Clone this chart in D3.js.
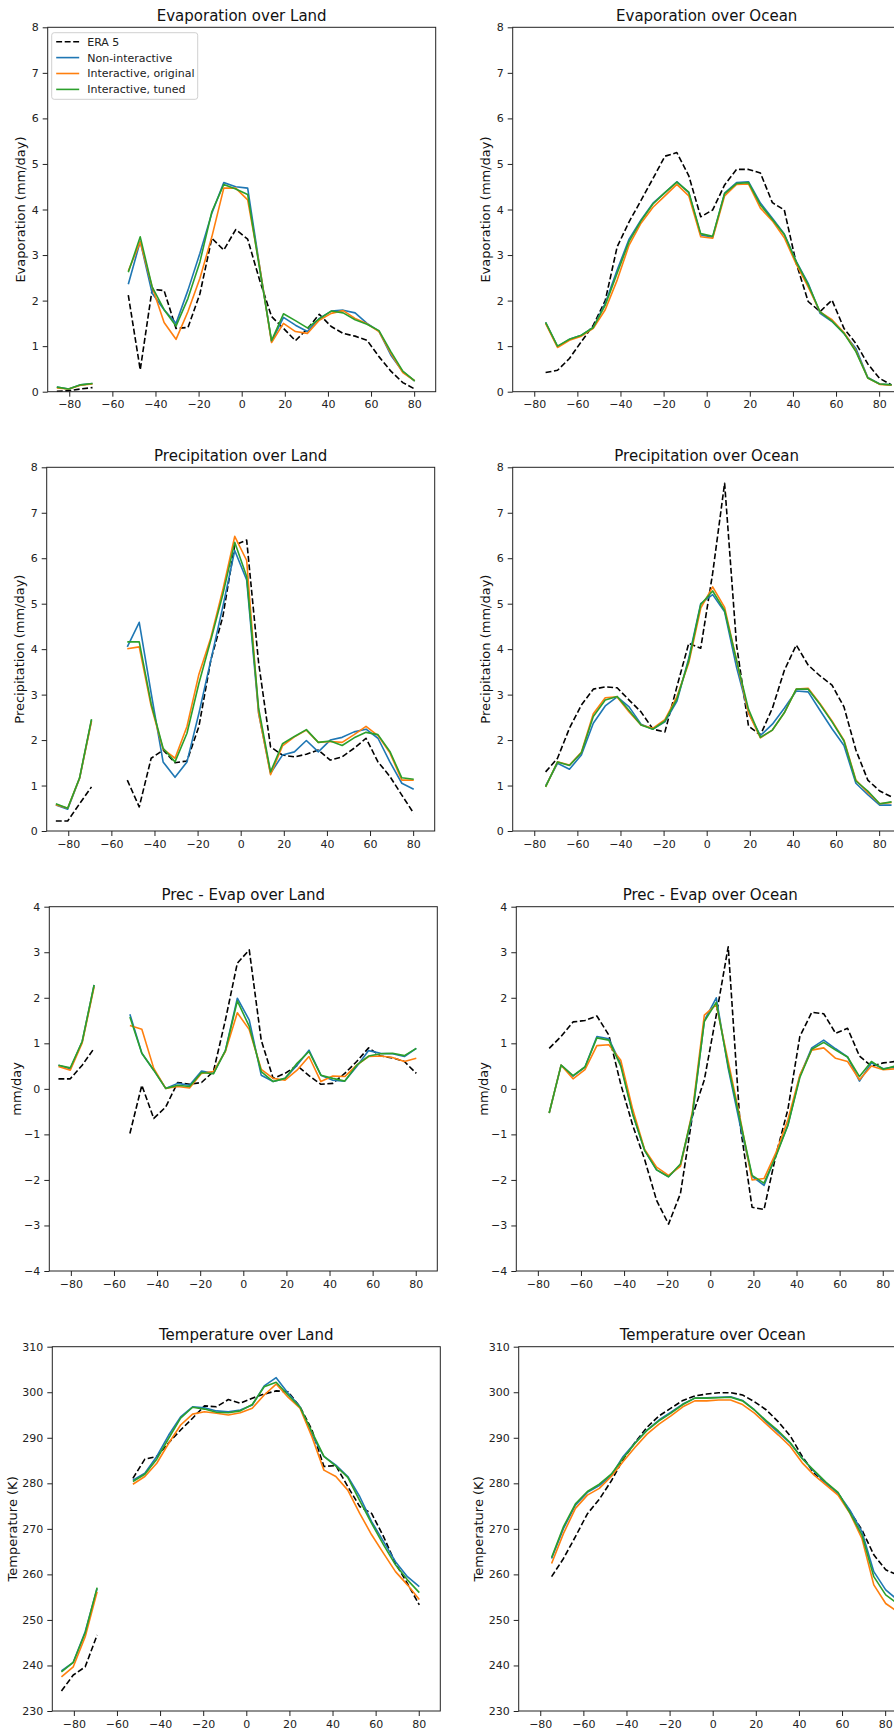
<!DOCTYPE html>
<html lang="en">
<head>
  <meta charset="UTF-8">
  <title>Zonal means</title>
  <script src="https://d3js.org/d3.v7.min.js"></script>
  <style>
    body { margin: 0; background: white; overflow: hidden; }
    svg { display: block; font-family: "DejaVu Sans", sans-serif; }
    .spine { fill: none; stroke: #222; stroke-width: 1; }
    .tick line { stroke: #222; }
    .tick text { fill: #222; font-size: 11px; }
    .title { font-size: 15px; fill: #111; text-anchor: middle; }
    .ylab { font-size: 13px; fill: #111; text-anchor: middle; }
    .series { fill: none; stroke-width: 1.6; stroke-linejoin: round; }
    .legend text { font-size: 11px; fill: #222; }
  </style>
</head>
<body>
<svg id="fig" width="894" height="1730"></svg>
<script>
// T21 gaussian latitudes, south to north
const lat = [-85.76, -80.27, -74.74, -69.21, -63.68, -58.14, -52.61, -47.07, -41.54, -36.00,
  -30.47, -24.92, -19.38, -13.85, -8.31, -2.77, 2.77, 8.31, 13.85, 19.38, 24.92, 30.47,
  36.00, 41.54, 47.07, 52.61, 58.14, 63.68, 69.21, 74.74, 80.26, 85.76];

const seriesNames = ["ERA 5", "Non-interactive", "Interactive, original", "Interactive, tuned"];
const seriesColors = ["#000000", "#1f77b4", "#ff7f0e", "#2ca02c"];

// Evaporation over land (mm/day)
const evapLandEra = [0.01, 0.02, 0.06, 0.09, null, null, 2.12, 0.48, 2.25, 2.22, 1.39, 1.41, 2.15, 3.37, 3.11, 3.56, 3.35, 2.45, 1.65, 1.39, 1.12, 1.38, 1.70, 1.43, 1.28, 1.22, 1.13, 0.77, 0.45, 0.2, 0.06, null];
const evapLandNon = [0.1, 0.06, 0.15, 0.18, null, null, 2.36, 3.3, 2.16, 1.8, 1.5, 2.23, 3.04, 3.92, 4.59, 4.5, 4.47, 2.75, 1.1, 1.63, 1.46, 1.32, 1.61, 1.77, 1.79, 1.73, 1.5, 1.33, 0.8, 0.44, 0.23, null];
const evapLandOrig = [0.08, 0.06, 0.14, 0.17, null, null, 2.65, 3.29, 2.3, 1.52, 1.15, 1.76, 2.49, 3.4, 4.47, 4.47, 4.21, 2.75, 1.08, 1.5, 1.32, 1.28, 1.57, 1.72, 1.78, 1.61, 1.49, 1.32, 0.84, 0.42, 0.24, null];
const evapLandTuned = [0.1, 0.06, 0.15, 0.18, null, null, 2.62, 3.4, 2.3, 1.8, 1.44, 2.05, 2.85, 3.95, 4.55, 4.45, 4.33, 2.7, 1.12, 1.71, 1.56, 1.4, 1.6, 1.77, 1.73, 1.58, 1.48, 1.34, 0.88, 0.45, 0.24, null];

// Evaporation over ocean (mm/day)
const evapOceanEra = [null, null, 0.42, 0.47, 0.73, 1.1, 1.46, 2.0, 3.18, 3.73, 4.2, 4.68, 5.17, 5.25, 4.74, 3.84, 3.99, 4.54, 4.88, 4.88, 4.8, 4.15, 3.99, 2.82, 1.98, 1.76, 2.01, 1.39, 1.06, 0.61, 0.29, 0.15];
const evapOceanNon = [null, null, 1.52, 0.99, 1.15, 1.24, 1.41, 1.94, 2.67, 3.35, 3.77, 4.14, 4.37, 4.61, 4.37, 3.44, 3.39, 4.36, 4.59, 4.61, 4.14, 3.81, 3.46, 2.86, 2.38, 1.72, 1.54, 1.28, 0.95, 0.31, 0.17, 0.15];
const evapOceanOrig = [null, null, 1.5, 0.97, 1.13, 1.22, 1.39, 1.8, 2.45, 3.22, 3.7, 4.05, 4.3, 4.55, 4.3, 3.4, 3.37, 4.3, 4.55, 4.56, 4.03, 3.75, 3.38, 2.8, 2.3, 1.75, 1.58, 1.3, 0.9, 0.3, 0.16, 0.14];
const evapOceanTuned = [null, null, 1.52, 1.0, 1.15, 1.24, 1.41, 1.9, 2.6, 3.3, 3.75, 4.12, 4.37, 4.6, 4.38, 3.47, 3.41, 4.35, 4.57, 4.59, 4.1, 3.78, 3.45, 2.85, 2.35, 1.75, 1.55, 1.28, 0.88, 0.3, 0.17, 0.15];

// Precipitation over land (mm/day)
const precLandEra = [0.22, 0.22, 0.6, 0.97, null, null, 1.12, 0.53, 1.6, 1.78, 1.5, 1.54, 2.3, 3.76, 4.71, 6.29, 6.4, 3.7, 1.85, 1.67, 1.63, 1.69, 1.78, 1.56, 1.63, 1.82, 2.04, 1.52, 1.2, 0.79, 0.39, null];
const precLandNon = [0.57, 0.48, 1.16, 2.44, null, null, 4.05, 4.59, 3.03, 1.52, 1.18, 1.52, 2.59, 3.76, 4.93, 6.17, 5.52, 2.59, 1.27, 1.67, 1.74, 1.99, 1.74, 2.0, 2.06, 2.18, 2.24, 2.04, 1.52, 1.05, 0.92, null];
const precLandOrig = [0.58, 0.5, 1.16, 2.42, null, null, 4.01, 4.05, 2.75, 1.8, 1.6, 2.3, 3.45, 4.25, 5.3, 6.48, 5.95, 2.6, 1.24, 1.87, 2.07, 2.22, 1.95, 1.97, 1.95, 2.12, 2.3, 2.1, 1.72, 1.12, 1.12, null];
const precLandTuned = [0.6, 0.5, 1.17, 2.46, null, null, 4.16, 4.16, 2.8, 1.82, 1.52, 2.15, 3.25, 4.2, 5.2, 6.35, 5.6, 2.7, 1.3, 1.92, 2.08, 2.23, 1.95, 1.98, 1.88, 2.05, 2.17, 2.12, 1.75, 1.17, 1.14, null];

// Precipitation over ocean (mm/day)
const precOceanEra = [null, null, 1.3, 1.6, 2.26, 2.77, 3.12, 3.17, 3.15, 2.88, 2.62, 2.24, 2.18, 3.17, 4.13, 4.02, 5.67, 7.65, 4.09, 2.31, 2.11, 2.7, 3.53, 4.09, 3.65, 3.41, 3.21, 2.73, 1.78, 1.12, 0.88, 0.75];
const precOceanNon = [null, null, 0.99, 1.49, 1.36, 1.67, 2.37, 2.75, 2.95, 2.73, 2.35, 2.24, 2.4, 2.85, 3.8, 5.0, 5.2, 4.82, 3.6, 2.6, 2.1, 2.35, 2.7, 3.08, 3.06, 2.65, 2.25, 1.88, 1.05, 0.8, 0.57, 0.57];
const precOceanOrig = [null, null, 0.97, 1.52, 1.45, 1.73, 2.58, 2.93, 2.95, 2.62, 2.33, 2.26, 2.45, 2.95, 3.7, 4.9, 5.37, 4.92, 3.75, 2.6, 2.05, 2.22, 2.6, 3.12, 3.14, 2.8, 2.42, 2.0, 1.12, 0.85, 0.6, 0.63];
const precOceanTuned = [null, null, 0.97, 1.52, 1.44, 1.72, 2.52, 2.88, 2.96, 2.65, 2.33, 2.24, 2.42, 2.9, 3.75, 4.98, 5.28, 4.85, 3.75, 2.68, 2.06, 2.22, 2.6, 3.12, 3.12, 2.78, 2.4, 1.98, 1.1, 0.88, 0.6, 0.64];

// Prec - Evap over land (mm/day)
const pmeLandEra = [0.22, 0.22, 0.52, 0.89, null, null, -0.98, 0.08, -0.65, -0.4, 0.14, 0.1, 0.14, 0.38, 1.51, 2.76, 3.05, 1.07, 0.23, 0.34, 0.51, 0.29, 0.1, 0.12, 0.34, 0.6, 0.9, 0.72, 0.68, 0.6, 0.34, null];
const pmeLandNon = [0.52, 0.44, 1.04, 2.28, null, null, 1.64, 0.78, 0.41, 0.01, 0.12, 0.08, 0.39, 0.34, 0.84, 1.99, 1.51, 0.3, 0.16, 0.23, 0.52, 0.85, 0.3, 0.19, 0.17, 0.49, 0.84, 0.78, 0.77, 0.71, 0.89, null];
const pmeLandOrig = [0.49, 0.41, 1.01, 2.24, null, null, 1.39, 1.31, 0.45, 0.01, 0.05, 0.02, 0.34, 0.38, 0.82, 1.67, 1.3, 0.43, 0.23, 0.19, 0.41, 0.71, 0.16, 0.28, 0.27, 0.52, 0.71, 0.72, 0.69, 0.6, 0.67, null];
const pmeLandTuned = [0.52, 0.46, 1.04, 2.28, null, null, 1.58, 0.78, 0.41, 0.01, 0.08, 0.05, 0.36, 0.33, 0.84, 1.93, 1.37, 0.38, 0.16, 0.23, 0.56, 0.82, 0.3, 0.23, 0.17, 0.52, 0.72, 0.77, 0.78, 0.73, 0.89, null];

// Prec - Evap over ocean (mm/day)
const pmeOceanEra = [null, null, 0.89, 1.15, 1.47, 1.5, 1.6, 1.18, 0.1, -0.8, -1.55, -2.45, -2.97, -2.3, -0.6, 0.2, 1.62, 3.12, -0.8, -2.6, -2.65, -1.45, -0.45, 1.15, 1.68, 1.65, 1.22, 1.33, 0.72, 0.5, 0.57, 0.6];
const pmeOceanNon = [null, null, -0.53, 0.52, 0.28, 0.48, 1.15, 1.1, 0.55, -0.55, -1.35, -1.78, -1.93, -1.67, -0.6, 1.5, 2.0, 0.45, -0.8, -1.92, -2.12, -1.45, -0.8, 0.28, 0.9, 1.07, 0.88, 0.7, 0.17, 0.57, 0.44, 0.48];
const pmeOceanOrig = [null, null, -0.53, 0.52, 0.22, 0.42, 0.95, 0.97, 0.63, -0.45, -1.33, -1.72, -1.9, -1.7, -0.5, 1.62, 1.85, 0.6, -0.65, -2.0, -1.97, -1.4, -0.68, 0.3, 0.85, 0.9, 0.67, 0.6, 0.2, 0.5, 0.42, 0.44];
const pmeOceanTuned = [null, null, -0.53, 0.52, 0.29, 0.48, 1.12, 1.07, 0.5, -0.55, -1.35, -1.78, -1.93, -1.65, -0.55, 1.48, 1.9, 0.5, -0.7, -1.9, -2.07, -1.48, -0.8, 0.25, 0.87, 1.02, 0.85, 0.7, 0.27, 0.6, 0.43, 0.5];

// Temperature over land (K)
const tempLandEra = [234.4, 237.9, 239.7, 246.7, null, null, 281.1, 285.3, 285.9, 288.9, 291.7, 294.3, 297.0, 296.8, 298.4, 297.6, 298.7, 299.6, 300.3, 300.1, 296.8, 291.7, 283.7, 283.9, 279.3, 274.9, 273.4, 268.3, 262.4, 258.0, 253.3, null];
const tempLandNon = [238.8, 240.7, 247.4, 256.9, null, null, 280.7, 282.2, 285.9, 290.6, 294.6, 296.8, 296.6, 295.9, 295.7, 296.1, 297.2, 301.4, 303.2, 299.8, 296.8, 290.6, 285.9, 284.0, 281.5, 277.1, 271.6, 267.2, 262.8, 259.5, 257.3, null];
const tempLandOrig = [237.5, 239.7, 246.3, 256.2, null, null, 279.8, 281.5, 284.4, 288.8, 292.8, 295.2, 295.7, 295.4, 295.0, 295.5, 296.5, 299.4, 301.8, 298.9, 296.5, 290.2, 282.9, 281.5, 278.5, 273.4, 268.7, 264.6, 260.6, 257.7, 254.5, null];
const tempLandTuned = [238.6, 240.7, 247.2, 257.1, null, null, 280.4, 282.0, 285.3, 289.9, 294.3, 296.7, 296.3, 295.6, 295.5, 295.9, 297.3, 301.2, 302.2, 299.4, 296.7, 291.3, 285.9, 283.8, 281.3, 276.2, 271.2, 266.5, 262.1, 258.8, 256.0, null];

// Temperature over ocean (K)
const tempOceanEra = [null, null, 259.5, 263.5, 268.3, 273.3, 276.5, 280.5, 285.3, 289.0, 292.3, 294.8, 296.5, 298.2, 299.2, 299.6, 299.9, 299.9, 299.4, 297.9, 296.1, 293.5, 290.4, 285.9, 282.2, 280.0, 277.8, 273.8, 269.8, 264.3, 261.0, 259.9];
const tempOceanNon = [null, null, 263.5, 270.1, 275.2, 278.0, 279.5, 281.7, 285.9, 288.9, 291.7, 293.9, 295.6, 297.4, 298.7, 298.8, 298.9, 299.0, 298.2, 296.1, 293.5, 291.2, 288.8, 285.5, 282.6, 280.0, 277.8, 274.1, 269.4, 260.6, 256.6, 254.4];
const tempOceanOrig = [null, null, 262.4, 269.0, 274.5, 277.4, 278.9, 281.5, 284.8, 287.9, 290.8, 293.0, 294.8, 296.8, 298.1, 298.1, 298.3, 298.3, 297.3, 295.4, 293.0, 290.6, 288.1, 284.5, 281.8, 279.6, 277.4, 273.4, 267.9, 257.7, 253.6, 251.8];
const tempOceanTuned = [null, null, 263.7, 270.5, 275.5, 278.2, 279.8, 282.0, 285.5, 288.8, 291.6, 293.7, 295.4, 297.3, 298.7, 298.7, 298.8, 298.9, 298.1, 296.1, 293.7, 291.5, 288.9, 285.4, 282.8, 280.2, 278.0, 273.5, 268.7, 259.5, 255.5, 253.6];

const xTicks = [-80, -60, -40, -20, 0, 20, 40, 60, 80];
const ticksMoist = [0, 1, 2, 3, 4, 5, 6, 7, 8];
const ticksPme = [-4, -3, -2, -1, 0, 1, 2, 3, 4];
const ticksTemp = [230, 240, 250, 260, 270, 280, 290, 300, 310];

// one entry per panel, read row by row
const panels = [
  { title: "Evaporation over Land", ylab: "Evaporation (mm/day)", yd: [0, 8], yt: ticksMoist,
    series: [evapLandEra, evapLandNon, evapLandOrig, evapLandTuned], legend: true },
  { title: "Evaporation over Ocean", ylab: "Evaporation (mm/day)", yd: [0, 8], yt: ticksMoist,
    series: [evapOceanEra, evapOceanNon, evapOceanOrig, evapOceanTuned] },
  { title: "Precipitation over Land", ylab: "Precipitation (mm/day)", yd: [0, 8], yt: ticksMoist,
    series: [precLandEra, precLandNon, precLandOrig, precLandTuned] },
  { title: "Precipitation over Ocean", ylab: "Precipitation (mm/day)", yd: [0, 8], yt: ticksMoist,
    series: [precOceanEra, precOceanNon, precOceanOrig, precOceanTuned] },
  { title: "Prec - Evap over Land", ylab: "mm/day", yd: [-4, 4], yt: ticksPme,
    series: [pmeLandEra, pmeLandNon, pmeLandOrig, pmeLandTuned] },
  { title: "Prec - Evap over Ocean", ylab: "mm/day", yd: [-4, 4], yt: ticksPme,
    series: [pmeOceanEra, pmeOceanNon, pmeOceanOrig, pmeOceanTuned] },
  { title: "Temperature over Land", ylab: "Temperature (K)", yd: [230, 310], yt: ticksTemp,
    series: [tempLandEra, tempLandNon, tempLandOrig, tempLandTuned] },
  { title: "Temperature over Ocean", ylab: "Temperature (K)", yd: [230, 310], yt: ticksTemp,
    series: [tempOceanEra, tempOceanNon, tempOceanOrig, tempOceanTuned] }
];

// axes boxes (pixels) per row: top, bottom, left of left column, left of right column, ylabel offset
const rows = [
  { top: 27.3, bottom: 391.7, l0: 47.7, l1: 512.7, yo: 23 },
  { top: 467.3, bottom: 831, l0: 46.7, l1: 512.7, yo: 22.5 },
  { top: 906.7, bottom: 1271, l0: 49.3, l1: 516.3, yo: 28 },
  { top: 1346.7, bottom: 1711, l0: 52.3, l1: 518.7, yo: 35.5 }
];
const axW = 388;

const fig = d3.select("#fig");

panels.forEach((p, i) => {
  const r = rows[Math.floor(i / 2)];
  const left = (i % 2 == 0) ? r.l0 : r.l1;
  const x = d3.scaleLinear().domain([-90, 90]).range([left, left + axW]);
  const y = d3.scaleLinear().domain(p.yd).range([r.bottom, r.top]);
  const g = fig.append("g");

  // lines first, ERA5 at the bottom
  const line = d3.line()
    .defined(d => d[1] != null)
    .x(d => x(d[0]))
    .y(d => y(d[1]));
  p.series.forEach((vals, k) => {
    g.append("path")
      .attr("class", "series")
      .attr("d", line(lat.map((la, j) => [la, vals[j]])))
      .attr("stroke", seriesColors[k])
      .attr("stroke-dasharray", k == 0 ? "5.9,2.6" : null);
  });

  g.append("rect").attr("class", "spine")
    .attr("x", left).attr("y", r.top)
    .attr("width", axW).attr("height", r.bottom - r.top);

  const xa = g.append("g").attr("transform", `translate(0,${r.bottom})`)
    .call(d3.axisBottom(x).tickValues(xTicks).tickSize(5).tickPadding(4).tickFormat(d3.format("d")));
  const ya = g.append("g").attr("transform", `translate(${left},0)`)
    .call(d3.axisLeft(y).tickValues(p.yt).tickSize(5).tickPadding(4).tickFormat(d3.format("d")));
  [xa, ya].forEach(a => {
    a.select(".domain").remove();
    a.attr("font-family", null).attr("font-size", null);
  });

  g.append("text").attr("class", "title")
    .attr("x", left + axW / 2).attr("y", r.top - 6.5)
    .text(p.title);

  g.append("text").attr("class", "ylab")
    .attr("transform", `translate(${left - r.yo},${(r.top + r.bottom) / 2}) rotate(-90)`)
    .text(p.ylab);

  if (p.legend) {
    const lg = g.append("g").attr("class", "legend")
      .attr("transform", `translate(${left + 4},${r.top + 5.4})`);
    lg.append("rect")
      .attr("width", 146).attr("height", 66.6)
      .attr("rx", 2.5)
      .attr("fill", "white").attr("fill-opacity", 0.8)
      .attr("stroke", "#d0d0d0").attr("stroke-width", 1);
    seriesNames.forEach((name, k) => {
      const yy = 9 + k * 15.9;
      lg.append("line")
        .attr("x1", 4.5).attr("x2", 27.5).attr("y1", yy).attr("y2", yy)
        .attr("stroke", seriesColors[k]).attr("stroke-width", 1.6)
        .attr("stroke-dasharray", k == 0 ? "5.9,2.6" : null);
      lg.append("text").attr("x", 35.5).attr("y", yy).attr("dy", "0.36em").text(name);
    });
  }
});
</script>
</body>
</html>
